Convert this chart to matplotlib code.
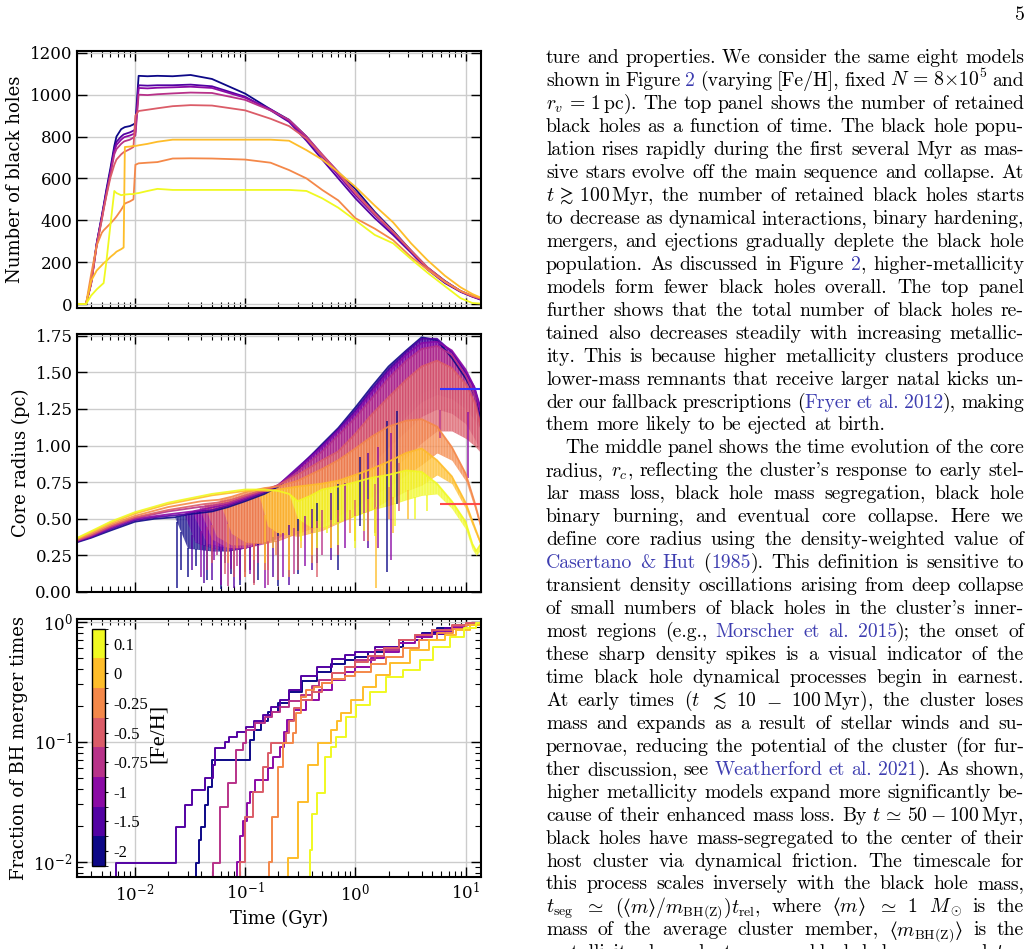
import numpy as np
import matplotlib
matplotlib.use('Agg')
import matplotlib.pyplot as plt
from matplotlib.colors import ListedColormap, BoundaryNorm
from matplotlib.cm import ScalarMappable
from matplotlib.ticker import FormatStrFormatter

plt.rcParams['font.family'] = 'DejaVu Serif'
plt.rcParams['mathtext.fontset'] = 'dejavuserif'
plt.rcParams['hatch.linewidth'] = 0.9

W, H = 1036, 949

# ---------------- data ----------------
feh_labels = ['-2', '-1.5', '-1', '-0.75', '-0.5', '-0.25', '0', '0.1']

# top panel: number of retained black holes, time in Gyr
t_nbh = [0.0030, 0.0036, 0.0040, 0.0045, 0.0050, 0.0052, 0.0055, 0.0060, 0.0065, 0.0068,
         0.0075, 0.0079, 0.0081, 0.0090, 0.0097, 0.0101, 0.0108, 0.013, 0.016, 0.022,
         0.032, 0.05, 0.1, 0.17, 0.25, 0.36, 0.5, 0.7, 1.0, 1.5,
         2.2, 3.2, 4.5, 6.5, 9.0, 11.5, 13.8]
nbh_m20 = [0, 0, 100, 290, 420, 470, 545, 650, 755, 800, 835, 842, 845, 850, 858, 865, 1090, 1088, 1090, 1088,
           1094, 1075, 1005, 930, 880, 800, 710, 630, 550, 440, 350, 255, 175, 110, 62, 38, 22]
nbh_m15 = [0, 0, 100, 290, 415, 465, 535, 635, 740, 775, 800, 810, 812, 820, 828, 835, 1045, 1043, 1045, 1045,
           1048, 1040, 990, 925, 870, 780, 690, 600, 505, 410, 330, 245, 165, 100, 58, 35, 20]
nbh_m10 = [0, 0, 100, 285, 410, 460, 530, 630, 730, 760, 785, 795, 798, 805, 812, 820, 1032, 1030, 1033, 1035,
           1038, 1032, 985, 930, 875, 790, 705, 615, 520, 425, 340, 250, 170, 105, 60, 36, 22]
nbh_m075 = [0, 0, 95, 280, 405, 455, 520, 620, 715, 740, 765, 775, 778, 785, 795, 805, 1000, 998, 1002, 1006,
            1010, 1008, 975, 925, 880, 800, 715, 630, 535, 435, 345, 255, 175, 108, 62, 38, 25]
nbh_m05 = [0, 0, 95, 280, 400, 450, 515, 605, 665, 690, 715, 725, 728, 740, 750, 900, 922, 928, 935, 945,
           950, 948, 925, 885, 850, 790, 710, 625, 530, 430, 345, 255, 175, 108, 62, 38, 25]
nbh_m025 = [0, 0, 140, 280, 340, 352, 365, 385, 405, 418, 450, 470, 480, 490, 500, 665, 672, 675, 678, 695,
            696, 695, 690, 675, 640, 600, 545, 495, 410, 360, 305, 225, 165, 105, 62, 40, 28]
nbh_p00 = [0, 0, 110, 160, 185, 195, 205, 225, 240, 250, 262, 270, 750, 752, 755, 755, 758, 765, 775, 785,
           785, 785, 785, 785, 780, 735, 690, 630, 560, 470, 390, 290, 210, 135, 80, 48, 30]
nbh_p01 = [0, 0, 40, 70, 92, 100, 200, 380, 540, 530, 520, 522, 523, 525, 525, 528, 530, 540, 550, 545,
           545, 545, 545, 545, 545, 540, 505, 460, 400, 330, 290, 215, 150, 85, 28, 5, 2]

# middle panel: core radius (pc); band of oscillations between lo and hi
rc_t_m20 = [0.003, 0.004, 0.006, 0.01, 0.015, 0.023, 0.03, 0.05, 0.07, 0.1, 0.15, 0.2, 0.3, 0.5, 0.7,
            1.0, 1.4, 2.0, 2.9, 4.0, 5.5, 7.5, 10.0, 12.0, 13.8]
rc_hi_m20 = [0.34, 0.37, 0.42, 0.48, 0.50, 0.51, 0.53, 0.55, 0.58, 0.62, 0.67, 0.72, 0.84, 1.01, 1.12,
             1.26, 1.40, 1.54, 1.65, 1.74, 1.72, 1.60, 1.46, 1.35, 1.18]
rc_lo_m20 = [0.34, 0.37, 0.42, 0.48, 0.50, 0.51, 0.30, 0.28, 0.28, 0.30, 0.34, 0.40, 0.50, 0.64, 0.74,
             0.88, 1.02, 1.18, 1.30, 1.42, 1.46, 1.40, 1.30, 1.22, 1.10]
sp_t_m20 = [0.024, 0.026, 0.03, 0.036, 0.045, 0.06, 0.075, 0.09, 0.11, 0.13, 0.2, 0.3, 0.45, 0.7, 1.1, 1.95, 2.4]
sp_lo_m20 = [0.03, 0.15, 0.10, 0.18, 0.08, 0.02, 0.12, 0.05, 0.15, 0.08, 0.04, 0.12, 0.20, 0.15, 0.45, 0.14, 0.60]

rc_t_m15 = [0.003, 0.004, 0.006, 0.01, 0.015, 0.028, 0.035, 0.05, 0.07, 0.1, 0.15, 0.2, 0.3, 0.5, 0.7,
            1.0, 1.4, 2.0, 2.9, 4.0, 5.5, 7.5, 10.0, 12.0, 13.8]
rc_hi_m15 = [0.345, 0.375, 0.43, 0.49, 0.51, 0.53, 0.55, 0.56, 0.59, 0.63, 0.68, 0.73, 0.85, 1.00, 1.11,
             1.24, 1.38, 1.52, 1.64, 1.73, 1.73, 1.64, 1.50, 1.40, 1.25]
rc_lo_m15 = [0.345, 0.375, 0.43, 0.49, 0.51, 0.53, 0.34, 0.30, 0.28, 0.30, 0.34, 0.40, 0.50, 0.62, 0.72,
             0.84, 0.98, 1.12, 1.24, 1.36, 1.40, 1.38, 1.28, 1.20, 1.10]
sp_t_m15 = [0.033, 0.042, 0.05, 0.065, 0.08, 0.1, 0.12, 0.18, 0.25, 0.4, 0.6, 1.3]
sp_lo_m15 = [0.15, 0.06, 0.08, 0.20, 0.03, 0.14, 0.06, 0.10, 0.05, 0.15, 0.22, 0.30]

rc_t_m10 = [0.003, 0.004, 0.006, 0.01, 0.02, 0.033, 0.045, 0.07, 0.1, 0.15, 0.2, 0.3, 0.5, 0.7,
            1.0, 1.4, 2.0, 2.9, 4.0, 5.5, 7.5, 10.0, 12.0, 13.8]
rc_hi_m10 = [0.35, 0.38, 0.44, 0.50, 0.53, 0.55, 0.57, 0.60, 0.64, 0.69, 0.73, 0.84, 0.99, 1.10,
             1.22, 1.36, 1.50, 1.62, 1.70, 1.71, 1.65, 1.52, 1.40, 1.22]
rc_lo_m10 = [0.35, 0.38, 0.44, 0.50, 0.53, 0.55, 0.33, 0.30, 0.30, 0.34, 0.38, 0.48, 0.60, 0.70,
             0.82, 0.94, 1.07, 1.20, 1.30, 1.35, 1.32, 1.25, 1.18, 1.08]
sp_t_m10 = [0.04, 0.052, 0.06, 0.075, 0.09, 0.11, 0.15, 0.22, 0.35, 0.8, 1.6, 2.1, 10.5]
sp_lo_m10 = [0.10, 0.22, 0.05, 0.16, 0.08, 0.12, 0.03, 0.10, 0.18, 0.30, 0.30, 0.22, 0.78]

rc_t_m075 = [0.003, 0.004, 0.006, 0.01, 0.02, 0.038, 0.05, 0.07, 0.1, 0.15, 0.2, 0.3, 0.5, 0.7,
             1.0, 1.4, 2.0, 2.9, 4.0, 5.5, 7.5, 10.0, 12.0, 13.8]
rc_hi_m075 = [0.35, 0.385, 0.445, 0.505, 0.55, 0.58, 0.59, 0.61, 0.65, 0.69, 0.73, 0.82, 0.96, 1.07,
              1.19, 1.32, 1.46, 1.58, 1.66, 1.68, 1.62, 1.48, 1.35, 1.12]
rc_lo_m075 = [0.35, 0.385, 0.445, 0.505, 0.55, 0.58, 0.36, 0.30, 0.30, 0.33, 0.37, 0.45, 0.56, 0.65,
              0.76, 0.87, 0.99, 1.10, 1.20, 1.25, 1.22, 1.15, 1.05, 0.95]
sp_t_m075 = [0.045, 0.055, 0.07, 0.085, 0.1, 0.13, 0.16, 0.28, 0.5, 1.2, 5.8]
sp_lo_m075 = [0.15, 0.25, 0.04, 0.18, 0.10, 0.20, 0.05, 0.12, 0.25, 0.35, 1.05]

rc_t_m05 = [0.003, 0.004, 0.006, 0.01, 0.02, 0.042, 0.055, 0.075, 0.1, 0.15, 0.2, 0.3, 0.5, 0.7,
            1.0, 1.4, 2.0, 2.9, 4.0, 5.5, 7.5, 10.0, 12.0, 13.8]
rc_hi_m05 = [0.355, 0.39, 0.45, 0.51, 0.56, 0.60, 0.61, 0.63, 0.66, 0.70, 0.73, 0.80, 0.90, 0.96,
             1.08, 1.21, 1.33, 1.45, 1.54, 1.58, 1.53, 1.42, 1.30, 1.12]
rc_lo_m05 = [0.355, 0.39, 0.45, 0.51, 0.56, 0.60, 0.38, 0.32, 0.32, 0.34, 0.38, 0.42, 0.50, 0.56,
             0.63, 0.72, 0.82, 0.92, 1.02, 1.10, 1.10, 1.05, 1.00, 0.95]
sp_t_m05 = [0.05, 0.065, 0.08, 0.1, 0.12, 0.16, 0.2, 0.3, 0.45, 0.7, 1.0, 1.5, 2.5]
sp_lo_m05 = [0.20, 0.12, 0.10, 0.22, 0.05, 0.15, 0.08, 0.15, 0.10, 0.25, 0.35, 0.40, 0.55]

rc_t_m025 = [0.003, 0.004, 0.006, 0.01, 0.02, 0.04, 0.058, 0.075, 0.1, 0.15, 0.2, 0.3, 0.5, 0.7,
             1.0, 1.4, 2.0, 2.9, 4.0, 5.5, 7.5, 10.0, 12.0, 13.8]
rc_hi_m025 = [0.36, 0.40, 0.46, 0.52, 0.58, 0.62, 0.63, 0.65, 0.68, 0.71, 0.72, 0.76, 0.84, 0.90,
              0.98, 1.06, 1.13, 1.17, 1.18, 1.13, 0.99, 0.81, 0.62, 0.45]
rc_lo_m025 = [0.36, 0.40, 0.46, 0.52, 0.58, 0.62, 0.63, 0.40, 0.34, 0.33, 0.35, 0.40, 0.46, 0.52,
              0.58, 0.65, 0.72, 0.80, 0.87, 0.95, 0.90, 0.76, 0.58, 0.42]
sp_t_m025 = [0.07, 0.085, 0.1, 0.12, 0.15, 0.19, 0.25, 0.4, 0.6, 0.9, 1.3, 2.0]
sp_lo_m025 = [0.20, 0.30, 0.10, 0.22, 0.15, 0.25, 0.10, 0.20, 0.30, 0.40, 0.35, 0.50]

rc_t_p00 = [0.003, 0.004, 0.006, 0.01, 0.02, 0.05, 0.1, 0.13, 0.16, 0.2, 0.3, 0.5, 0.7,
            1.0, 1.4, 2.0, 2.9, 4.0, 5.5, 7.5, 10.0, 12.0, 13.8]
rc_hi_p00 = [0.365, 0.41, 0.47, 0.535, 0.60, 0.66, 0.69, 0.695, 0.69, 0.70, 0.72, 0.74, 0.76,
             0.80, 0.84, 0.89, 0.95, 0.98, 0.90, 0.79, 0.61, 0.45, 0.33]
rc_lo_p00 = [0.365, 0.41, 0.47, 0.535, 0.60, 0.66, 0.69, 0.695, 0.45, 0.40, 0.38, 0.42, 0.47,
             0.52, 0.56, 0.63, 0.69, 0.73, 0.80, 0.74, 0.57, 0.42, 0.31]
sp_t_p00 = [0.15, 0.18, 0.25, 0.32, 0.4, 0.6, 1.0, 1.55, 2.2, 3.0]
sp_lo_p00 = [0.20, 0.30, 0.15, 0.30, 0.25, 0.30, 0.35, 0.03, 0.40, 0.50]

rc_t_p01 = [0.003, 0.004, 0.006, 0.01, 0.02, 0.05, 0.1, 0.15, 0.2, 0.25, 0.3, 0.4, 0.5, 0.7,
            1.0, 1.4, 2.0, 2.9, 4.0, 5.5, 7.5, 10.0, 11.5, 12.5, 13.8]
rc_hi_p01 = [0.37, 0.415, 0.48, 0.545, 0.61, 0.67, 0.70, 0.70, 0.69, 0.67, 0.62, 0.66, 0.70, 0.72,
             0.75, 0.78, 0.80, 0.83, 0.82, 0.74, 0.62, 0.48, 0.33, 0.28, 0.33]
rc_lo_p01 = [0.37, 0.415, 0.48, 0.545, 0.61, 0.67, 0.70, 0.70, 0.69, 0.67, 0.50, 0.44, 0.44, 0.48,
             0.52, 0.56, 0.59, 0.63, 0.66, 0.67, 0.57, 0.43, 0.29, 0.25, 0.29]
sp_t_p01 = [0.32, 0.38, 0.45, 0.55, 0.7, 1.0, 1.2, 1.5, 2.3, 3.5, 4.5]
sp_lo_p01 = [0.35, 0.45, 0.30, 0.40, 0.32, 0.30, 0.42, 0.38, 0.45, 0.50, 0.55]

# flat reference segments in the core-radius panel
rc_flat_blue = 1.385
rc_flat_red = 0.60
rc_flat_t = [5.8, 13.8]

# bottom panel: cumulative fraction of BH merger times
cdf_t_m20 = [0.033, 0.036, 0.038, 0.040, 0.043, 0.046, 0.050, 0.11, 0.12, 0.14, 0.16, 0.2, 0.25,
             0.33, 0.45, 0.6, 0.8, 1.0, 1.3, 1.8, 2.7, 4.0, 5.5, 8.0, 11.0, 13.8]
cdf_m20 = [0.005, 0.0098, 0.0152, 0.0196, 0.0297, 0.0422, 0.0704, 0.103, 0.125, 0.15, 0.175, 0.21, 0.26,
           0.32, 0.38, 0.44, 0.48, 0.51, 0.56, 0.62, 0.70, 0.80, 0.88, 0.94, 0.98, 1.0]
cdf_t_m15 = [0.006, 0.0067, 0.0237, 0.0287, 0.0329, 0.0433, 0.0513, 0.053, 0.065, 0.072, 0.085, 0.102,
             0.12, 0.145, 0.17, 0.206, 0.25, 0.32, 0.45, 0.62, 0.8, 1.0, 1.5, 2.5, 4.0, 6.5, 10.0, 13.8]
cdf_m15 = [0.005, 0.0098, 0.0196, 0.0297, 0.0396, 0.0495, 0.064, 0.088, 0.10, 0.11, 0.121, 0.133,
           0.15, 0.167, 0.195, 0.223, 0.27, 0.35, 0.42, 0.49, 0.53, 0.56, 0.62, 0.71, 0.79, 0.88, 0.95, 1.0]
cdf_t_m10 = [0.08, 0.084, 0.089, 0.095, 0.103, 0.11, 0.122, 0.161, 0.18, 0.206, 0.225, 0.24, 0.28,
             0.36, 0.47, 0.62, 0.8, 1.0, 1.4, 1.8, 2.5, 3.5, 5.0, 7.5, 10.0, 13.8]
cdf_m10 = [0.005, 0.01, 0.0162, 0.022, 0.0306, 0.038, 0.048, 0.060, 0.075, 0.091, 0.12, 0.152, 0.184,
           0.223, 0.27, 0.326, 0.38, 0.42, 0.50, 0.56, 0.66, 0.74, 0.83, 0.91, 0.96, 1.0]
cdf_t_m075 = [0.048, 0.051, 0.0587, 0.0699, 0.083, 0.096, 0.102, 0.122, 0.15, 0.175, 0.206, 0.25, 0.32,
              0.4, 0.47, 0.62, 0.8, 1.0, 1.5, 2.5, 3.5, 5.0, 7.5, 10.0, 13.8]
cdf_m075 = [0.005, 0.0097, 0.0287, 0.045, 0.085, 0.097, 0.125, 0.142, 0.16, 0.175, 0.195, 0.22, 0.245,
            0.29, 0.326, 0.37, 0.42, 0.48, 0.58, 0.70, 0.78, 0.85, 0.92, 0.96, 1.0]
cdf_t_m05 = [0.085, 0.089, 0.1, 0.118, 0.145, 0.16, 0.173, 0.236, 0.25, 0.28, 0.32, 0.4, 0.5, 0.62,
             0.8, 1.0, 1.3, 1.8, 2.5, 3.5, 5.0, 7.5, 10.0, 13.8]
cdf_m05 = [0.005, 0.01, 0.0237, 0.038, 0.062, 0.08, 0.097, 0.117, 0.15, 0.19, 0.223, 0.26, 0.31, 0.37,
           0.42, 0.465, 0.52, 0.60, 0.70, 0.78, 0.86, 0.93, 0.97, 1.0]
cdf_t_m025 = [0.16, 0.165, 0.175, 0.2, 0.22, 0.27, 0.29, 0.32, 0.36, 0.42, 0.5, 0.62, 0.8, 1.0, 1.4,
              1.9, 2.7, 3.8, 5.5, 7.7, 10.0, 13.8]
cdf_m025 = [0.005, 0.01, 0.0237, 0.062, 0.097, 0.117, 0.172, 0.237, 0.27, 0.288, 0.31, 0.33, 0.35, 0.38,
            0.44, 0.51, 0.60, 0.70, 0.80, 0.87, 0.94, 1.0]
cdf_t_p00 = [0.23, 0.244, 0.30, 0.37, 0.458, 0.606, 0.68, 0.746, 0.92, 1.17, 1.55, 2.05, 3.1, 4.7,
             6.5, 8.2, 11.0, 13.8]
cdf_p00 = [0.005, 0.0107, 0.0316, 0.064, 0.097, 0.125, 0.15, 0.172, 0.223, 0.288, 0.36, 0.45, 0.58, 0.70,
           0.78, 0.85, 0.94, 1.0]
cdf_t_p01 = [0.36, 0.384, 0.40, 0.45, 0.53, 0.6, 0.672, 0.83, 1.02, 1.35, 1.91, 2.7, 3.83, 5.07, 7.2,
             9.7, 12.5, 13.8]
cdf_p01 = [0.005, 0.0125, 0.025, 0.037, 0.075, 0.09, 0.11, 0.162, 0.202, 0.26, 0.348, 0.396, 0.479, 0.62,
           0.75, 0.88, 0.97, 1.0]

# body text of the page column ('@' toggles link colour)
page_number = '5'
text_lines = [
    "ture and properties. We consider the same eight models",
    "shown in Figure @2@ (varying [Fe/H], fixed $N\\,=\\,8{\\times}10^5$ and",
    "$r_v\\,=\\,1\\,$pc). The top panel shows the number of retained",
    "black holes as a function of time. The black hole popu-",
    "lation rises rapidly during the first several Myr as mas-",
    "sive stars evolve off the main sequence and collapse. At",
    "$t\\,\\gtrsim\\,100\\,$Myr, the number of retained black holes starts",
    "to decrease as dynamical interactions, binary hardening,",
    "mergers, and ejections gradually deplete the black hole",
    "population. As discussed in Figure @2@, higher-metallicity",
    "models form fewer black holes overall. The top panel",
    "further shows that the total number of black holes re-",
    "tained also decreases steadily with increasing metallic-",
    "ity. This is because higher metallicity clusters produce",
    "lower-mass remnants that receive larger natal kicks un-",
    "der our fallback prescriptions (@Fryer et al. 2012@), making",
    "them more likely to be ejected at birth.",
    "The middle panel shows the time evolution of the core",
    "radius, $r_c$, reflecting the cluster's response to early stel-",
    "lar mass loss, black hole mass segregation, black hole",
    "binary burning, and eventual core collapse. Here we",
    "define core radius using the density-weighted value of",
    "@Casertano & Hut@ (@1985@). This definition is sensitive to",
    "transient density oscillations arising from deep collapse",
    "of small numbers of black holes in the cluster's inner-",
    "most regions (e.g., @Morscher et al. 2015@); the onset of",
    "these sharp density spikes is a visual indicator of the",
    "time black hole dynamical processes begin in earnest.",
    "At early times ($t$ $\\lesssim$ $10$ $-$ $100\\,$Myr), the cluster loses",
    "mass and expands as a result of stellar winds and su-",
    "pernovae, reducing the potential of the cluster (for fur-",
    "ther discussion, see @Weatherford et al. 2021@). As shown,",
    "higher metallicity models expand more significantly be-",
    "cause of their enhanced mass loss. By $t\\,\\simeq\\,50-100\\,$Myr,",
    "black holes have mass-segregated to the center of their",
    "host cluster via dynamical friction. The timescale for",
    "this process scales inversely with the black hole mass,",
    "$t_\\mathrm{seg}$ $\\simeq$ $(\u27e8m\u27e9/m_\\mathrm{BH(Z)})t_\\mathrm{rel}$, where $\u27e8m\u27e9$ $\\simeq$ $1$ $M_\\odot$ is the",
    "mass of the average cluster member, $\u27e8m_\\mathrm{BH(Z)}\u27e9$ is the",
    "metallicity-dependent average black hole mass, and $t_\\mathrm{rel}$",
]
ragged_lines = [16, 39]   # last line of a paragraph: not justified
indent_lines = [17]

# ---------------- figure ----------------
colors = plt.cm.plasma(np.linspace(0, 1, 8))

fig = plt.figure(figsize=(W / 100, H / 100), dpi=100)
ax1 = fig.add_axes([77.3 / W, 1 - 308 / H, 403.7 / W, 257.3 / H])
ax2 = fig.add_axes([77.3 / W, 1 - 592 / H, 403.7 / W, 258 / H])
ax3 = fig.add_axes([77.3 / W, 1 - 877.3 / H, 403.7 / W, 258 / H])

for ax in (ax1, ax2, ax3):
    ax.set_xscale('log')
    ax.set_xlim(0.003, 13.8)
    ax.grid(True, which='major', color='#cccccc', lw=1.0)
    ax.set_axisbelow(True)
    ax.tick_params(which='both', direction='in', top=True, right=True, labelsize=12)
    ax.tick_params(which='major', length=7, width=1.0)
    ax.tick_params(which='minor', length=4, width=0.8)
    for s in ax.spines.values():
        s.set_linewidth(1.5)

# top: number of black holes
nbh_series = [nbh_m20, nbh_m15, nbh_m10, nbh_m075, nbh_m05, nbh_m025, nbh_p00, nbh_p01]
for c, n in zip(colors, nbh_series):
    ax1.plot(t_nbh, n, color=c, lw=1.3)
ax1.set_ylim(-19, 1210)
ax1.set_yticks(range(0, 1201, 200))
ax1.tick_params(labelbottom=False)
ax1.set_ylabel('Number of black holes', fontsize=13)

# middle: core radius, oscillation band drawn as a striped fill plus spikes
rc_series = [
    (rc_t_m20, rc_hi_m20, rc_lo_m20, sp_t_m20, sp_lo_m20),
    (rc_t_m15, rc_hi_m15, rc_lo_m15, sp_t_m15, sp_lo_m15),
    (rc_t_m10, rc_hi_m10, rc_lo_m10, sp_t_m10, sp_lo_m10),
    (rc_t_m075, rc_hi_m075, rc_lo_m075, sp_t_m075, sp_lo_m075),
    (rc_t_m05, rc_hi_m05, rc_lo_m05, sp_t_m05, sp_lo_m05),
    (rc_t_m025, rc_hi_m025, rc_lo_m025, sp_t_m025, sp_lo_m025),
    (rc_t_p00, rc_hi_p00, rc_lo_p00, sp_t_p00, sp_lo_p00),
    (rc_t_p01, rc_hi_p01, rc_lo_p01, sp_t_p01, sp_lo_p01),
]
for c, (t, hi, lo, st, sl) in zip(colors, rc_series):
    ax2.fill_between(t, lo, hi, color=c, alpha=0.8, lw=0)
    ax2.fill_between(t, lo, hi, facecolor='none', edgecolor=(1, 1, 1, 0.22),
                     hatch='|' * 6, lw=0)
    ax2.plot(t, hi, color=c, lw=1.3, alpha=0.9)
    top = np.interp(np.log10(st), np.log10(t), lo)
    ax2.vlines(st, sl, top, color=c, lw=1.2, alpha=0.85)
ax2.hlines(rc_flat_blue, rc_flat_t[0], rc_flat_t[1], color='#3333ff', lw=1.5)
ax2.hlines(rc_flat_red, rc_flat_t[0], rc_flat_t[1], color='#ff4a4a', lw=1.5)
ax2.set_ylim(0, 1.762)
ax2.set_yticks(np.arange(0, 1.76, 0.25))
ax2.yaxis.set_major_formatter(FormatStrFormatter('%.2f'))
ax2.tick_params(labelbottom=False)
ax2.set_ylabel('Core radius (pc)', fontsize=13)

# bottom: merger time CDF
cdf_series = [(cdf_t_m20, cdf_m20), (cdf_t_m15, cdf_m15), (cdf_t_m10, cdf_m10),
              (cdf_t_m075, cdf_m075), (cdf_t_m05, cdf_m05), (cdf_t_m025, cdf_m025),
              (cdf_t_p00, cdf_p00), (cdf_t_p01, cdf_p01)]
for c, (t, f) in zip(colors, cdf_series):
    ax3.plot(t, f, color=c, lw=1.4, drawstyle='steps-post')
ax3.set_yscale('log')
ax3.set_ylim(0.0074, 1.047)
ax3.set_ylabel('Fraction of BH merger times', fontsize=13)
ax3.set_xlabel('Time (Gyr)', fontsize=13)

cmap = ListedColormap(colors)
norm = BoundaryNorm(np.arange(9), 8)
cax = ax3.inset_axes([0.0364, 0.044, 0.033, 0.919])
cb = fig.colorbar(ScalarMappable(norm=norm, cmap=cmap), cax=cax, ticks=np.arange(8) + 0.5)
cb.set_ticklabels(feh_labels)
cb.outline.set_linewidth(1.0)
cb.ax.tick_params(length=2.5, width=0.8, labelsize=12, direction='out', pad=3)
for lab in cb.ax.get_yticklabels():
    lab.set_family('Liberation Serif')
ax3.text(0.2, 0.559, '[Fe/H]', transform=ax3.transAxes, rotation=90,
         ha='center', va='center', fontsize=16, family='Liberation Serif')

# ---------------- text column ----------------
fs_body = 14.2
x_left, x_right = 546, 1024
y_first, y_step = 63.3, 22.95
link_color = '#3d3db0'
space_px = 0.333 * fs_body * 100 / 72


def split_tokens(line):
    toks, cur, math = [], '', False
    for ch in line:
        if ch == '$':
            math = not math
        if ch == ' ' and not math:
            if cur:
                toks.append(cur)
            cur = ''
        else:
            cur += ch
    if cur:
        toks.append(cur)
    return toks


rend = fig.canvas.get_renderer()


def body_line(line, y, x0, justify):
    link = False
    words = []
    for tok in split_tokens(line):
        parts = []
        for k, s in enumerate(tok.split('@')):
            if k > 0:
                link = not link
            if s:
                t = fig.text(0, 1 - y / H, s, fontsize=fs_body, family='cmr10',
                             math_fontfamily='cm', color=link_color if link else 'black',
                             ha='left', va='baseline')
                parts.append((t, t.get_window_extent(renderer=rend).width))
        words.append(parts)
    total = sum(w for parts in words for _, w in parts)
    gap = (x_right - x0 - total) / (len(words) - 1) if justify else space_px
    x = x0
    for parts in words:
        for t, w in parts:
            t.set_x(x / W)
            x += w
        x += gap


for i, line in enumerate(text_lines):
    x0 = x_left + (19 if i in indent_lines else 0)
    body_line(line, y_first + i * y_step, x0, i not in ragged_lines)

fig.text(1025 / W, 1 - 20.5 / H, page_number, fontsize=fs_body, family='cmr10',
         ha='right', va='baseline')

fig.savefig('out.png', dpi=100)
